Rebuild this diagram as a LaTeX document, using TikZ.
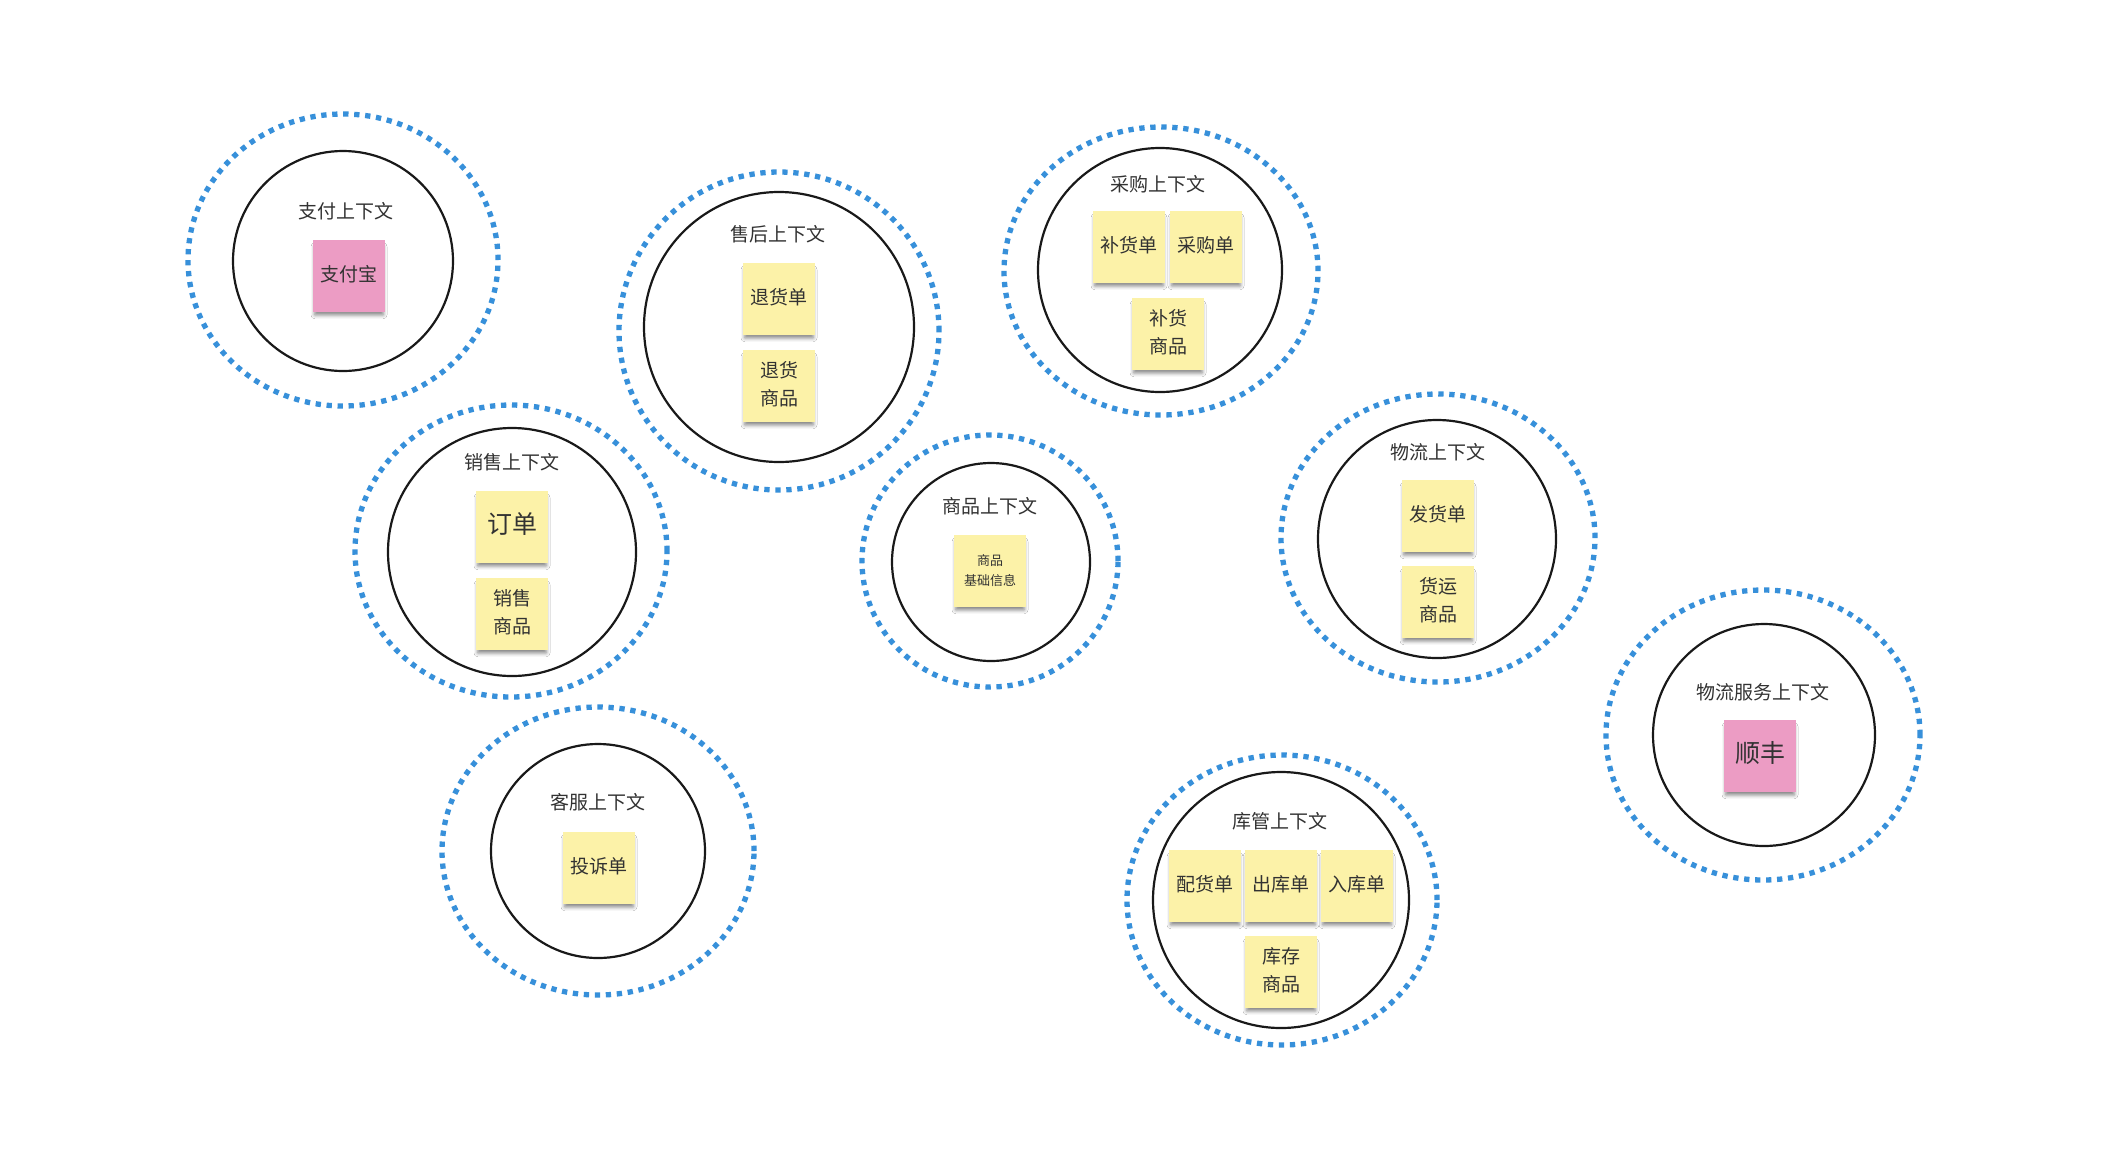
\documentclass[tikz,border=0pt]{standalone}
\usepackage{fontspec}
\setmainfont{Noto Sans CJK SC}
\usetikzlibrary{shapes.geometric,shadows.blur}
\definecolor{dotblue}{RGB}{55,144,218}
\definecolor{noteyellow}{RGB}{252,242,168}
\definecolor{notepink}{RGB}{236,156,196}
\definecolor{txt}{RGB}{50,50,50}
\newcommand{\ntxt}[1]{\raisebox{3pt}{\begin{tabular}{@{}c@{}}#1\end{tabular}}}
\tikzset{
  ctx/.style={circle,draw=black!90,line width=2.2pt,inner sep=0pt},
  ring/.style={ellipse,draw=dotblue,line width=5.3pt,dash pattern=on 5.3pt off 5.7pt,inner sep=0pt},
  ttl/.style={text=txt,font=\fontsize{19}{22}\selectfont,inner sep=0pt},
  note/.style={rectangle,minimum width=72pt,minimum height=72pt,inner sep=0pt,align=center,
    text=txt,font=\fontsize{19}{28}\selectfont,
    blur shadow={shadow xshift=0pt,shadow yshift=-5pt,shadow blur radius=4pt,shadow opacity=50,shadow scale=0.95}},
  ynote/.style={note,fill=noteyellow},
  pnote/.style={note,fill=notepink},
  bigtxt/.style={font=\fontsize{25}{30}\selectfont},
  smalltxt/.style={font=\fontsize{13}{20}\selectfont}
}
\begin{document}
\begin{tikzpicture}[x=1pt,y=-1pt]
\useasboundingbox[fill=white] (0,0) rectangle (2112,1152);

% 1 payment
\node[ring,minimum width=310pt,minimum height=292pt] (payR) at (343,260) {};
\node[ctx,minimum size=220pt] (payC) at (343,261) {};
\node[ttl] (payT) at (346,211) {支付上下文};
\node[pnote] (payN) at (349,276) {\ntxt{支付宝}};

% 2 after-sales
\node[ring,minimum width=320pt,minimum height=318pt] (asR) at (779,331) {};
\node[ctx,minimum size=270pt] (asC) at (779,327) {};
\node[ttl] (asT) at (778,234) {售后上下文};
\node[ynote] (asN1) at (779,299) {\ntxt{退货单}};
\node[ynote] (asN2) at (779,386) {\ntxt{退货\\商品}};

% 3 purchase
\node[ring,minimum width=314pt,minimum height=288pt] (puR) at (1161,271) {};
\node[ctx,minimum size=244pt] (puC) at (1160,270) {};
\node[ttl] (puT) at (1158,184) {采购上下文};
\node[ynote] (puN1) at (1129,247) {\ntxt{补货单}};
\node[ynote] (puN2) at (1206,247) {\ntxt{采购单}};
\node[ynote] (puN3) at (1168,334) {\ntxt{补货\\商品}};

% 4 sales
\node[ring,minimum width=312pt,minimum height=292pt] (saR) at (511,551) {};
\node[ctx,minimum size=248pt] (saC) at (512,552) {};
\node[ttl] (saT) at (512,462) {销售上下文};
\node[ynote,bigtxt] (saN1) at (512,527) {\ntxt{订单}};
\node[ynote] (saN2) at (512,614) {\ntxt{销售\\商品}};

% 5 product
\node[ring,minimum width=256pt,minimum height=252pt] (prR) at (990,561) {};
\node[ctx,minimum size=198pt] (prC) at (991,562) {};
\node[ttl] (prT) at (990,506) {商品上下文};
\node[ynote,smalltxt] (prN) at (990,571) {\ntxt{商品\\基础信息}};

% 6 logistics
\node[ring,minimum width=314pt,minimum height=288pt] (loR) at (1438,538) {};
\node[ctx,minimum size=238pt] (loC) at (1437,539) {};
\node[ttl] (loT) at (1438,452) {物流上下文};
\node[ynote] (loN1) at (1438,516) {\ntxt{发货单}};
\node[ynote] (loN2) at (1438,602) {\ntxt{货运\\商品}};

% 7 logistics service
\node[ring,minimum width=314pt,minimum height=290pt] (lsR) at (1763,735) {};
\node[ctx,minimum size=222pt] (lsC) at (1764,735) {};
\node[ttl] (lsT) at (1763,692) {物流服务上下文};
\node[pnote,bigtxt] (lsN) at (1760,756) {\ntxt{顺丰}};

% 8 customer service
\node[ring,minimum width=312pt,minimum height=288pt] (csR) at (598,851) {};
\node[ctx,minimum size=214pt] (csC) at (598,851) {};
\node[ttl] (csT) at (598,802) {客服上下文};
\node[ynote] (csN) at (599,868) {\ntxt{投诉单}};

% 9 warehouse
\node[ring,minimum width=310pt,minimum height=290pt] (whR) at (1282,900) {};
\node[ctx,minimum size=256pt] (whC) at (1281,900) {};
\node[ttl] (whT) at (1280,821) {库管上下文};
\node[ynote] (whN1) at (1205,886) {\ntxt{配货单}};
\node[ynote] (whN2) at (1281,886) {\ntxt{出库单}};
\node[ynote] (whN3) at (1357,886) {\ntxt{入库单}};
\node[ynote] (whN4) at (1281,972) {\ntxt{库存\\商品}};
\end{tikzpicture}
\end{document}
